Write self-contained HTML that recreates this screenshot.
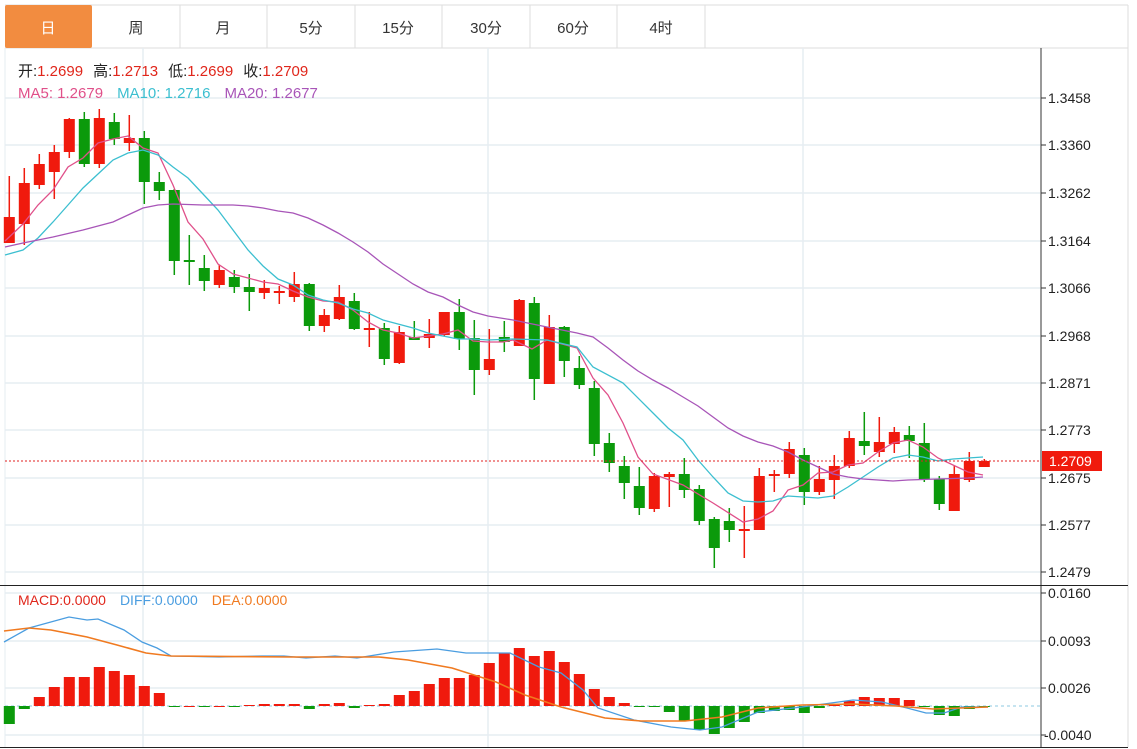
<!DOCTYPE html>
<html><head><meta charset="utf-8"><style>
body{margin:0;background:#fff;width:1137px;height:749px;overflow:hidden;font-family:"Liberation Sans","Noto Sans CJK SC",sans-serif}
svg{position:absolute;left:0;top:0}
</style></head><body>
<svg id="s" width="1137" height="749" xmlns="http://www.w3.org/2000/svg" font-family="Liberation Sans, Noto Sans CJK SC, sans-serif">
<rect x="0" y="0" width="1137" height="749" fill="#fff"/>
<!-- tabs -->
<line x1="5" y1="5" x2="1128" y2="5" stroke="#ddd"/>
<line x1="5" y1="48" x2="1128" y2="48" stroke="#ddd"/>
<line x1="1128" y1="5" x2="1128" y2="747" stroke="#ddd"/>
<rect x="5" y="5" width="87" height="43" fill="#f28c40" rx="2"/>
<g stroke="#ddd"><line x1="180" y1="5" x2="180" y2="48"/><line x1="267" y1="5" x2="267" y2="48"/><line x1="355" y1="5" x2="355" y2="48"/><line x1="442" y1="5" x2="442" y2="48"/><line x1="530" y1="5" x2="530" y2="48"/><line x1="617" y1="5" x2="617" y2="48"/><line x1="705" y1="5" x2="705" y2="48"/></g>
<g font-size="15" text-anchor="middle" fill="#333">
<text x="48" y="33" fill="#fff">日</text><text x="136" y="33">周</text><text x="223" y="33">月</text><text x="311" y="33">5分</text><text x="398" y="33">15分</text><text x="486" y="33">30分</text><text x="573" y="33">60分</text><text x="661" y="33">4时</text>
</g>
<!-- grid -->
<g stroke="#e6edf2" stroke-width="1.5">
<line x1="5" y1="98" x2="1040" y2="98"/><line x1="5" y1="145" x2="1040" y2="145"/><line x1="5" y1="193" x2="1040" y2="193"/><line x1="5" y1="241" x2="1040" y2="241"/><line x1="5" y1="288" x2="1040" y2="288"/><line x1="5" y1="336" x2="1040" y2="336"/><line x1="5" y1="383" x2="1040" y2="383"/><line x1="5" y1="430" x2="1040" y2="430"/><line x1="5" y1="478" x2="1040" y2="478"/><line x1="5" y1="525" x2="1040" y2="525"/><line x1="5" y1="572" x2="1040" y2="572"/>
<line x1="5" y1="593" x2="1040" y2="593"/><line x1="5" y1="641" x2="1040" y2="641"/><line x1="5" y1="688" x2="1040" y2="688"/><line x1="5" y1="735" x2="1040" y2="735"/>
<line x1="143" y1="48" x2="143" y2="747"/><line x1="488" y1="48" x2="488" y2="747"/><line x1="803" y1="48" x2="803" y2="747"/>
</g>
<line x1="5" y1="48" x2="5" y2="747" stroke="#e6edf2"/>
<line x1="1041" y1="48" x2="1041" y2="747" stroke="#333"/>
<line x1="0" y1="585.5" x2="1128" y2="585.5" stroke="#222"/>
<line x1="0" y1="747.5" x2="1128" y2="747.5" stroke="#222"/>
<line x1="5" y1="706" x2="1040" y2="706" stroke="#8cc8e0" stroke-dasharray="3,3"/>
<g id="c"></g>
<line x1="5" y1="461" x2="1040" y2="461" stroke="#e02020" stroke-dasharray="2,2"/>
<rect x="1042" y="451" width="60" height="20" fill="#f01a0d"/>
<text x="1049" y="466" font-size="14" fill="#fff">1.2709</text>
<g font-size="14" fill="#222">
<text x="1048" y="103">1.3458</text><text x="1048" y="150">1.3360</text><text x="1048" y="198">1.3262</text><text x="1048" y="246">1.3164</text><text x="1048" y="293">1.3066</text><text x="1048" y="341">1.2968</text><text x="1048" y="388">1.2871</text><text x="1048" y="435">1.2773</text><text x="1048" y="483">1.2675</text><text x="1048" y="530">1.2577</text><text x="1048" y="577">1.2479</text>
<text x="1048" y="598">0.0160</text><text x="1048" y="646">0.0093</text><text x="1048" y="693">0.0026</text><text x="1044" y="740">-0.0040</text>
</g>
<g stroke="#333"><line x1="1041" y1="98" x2="1046" y2="98"/><line x1="1041" y1="145" x2="1046" y2="145"/><line x1="1041" y1="193" x2="1046" y2="193"/><line x1="1041" y1="241" x2="1046" y2="241"/><line x1="1041" y1="288" x2="1046" y2="288"/><line x1="1041" y1="336" x2="1046" y2="336"/><line x1="1041" y1="383" x2="1046" y2="383"/><line x1="1041" y1="430" x2="1046" y2="430"/><line x1="1041" y1="478" x2="1046" y2="478"/><line x1="1041" y1="525" x2="1046" y2="525"/><line x1="1041" y1="572" x2="1046" y2="572"/><line x1="1041" y1="593" x2="1046" y2="593"/><line x1="1041" y1="641" x2="1046" y2="641"/><line x1="1041" y1="688" x2="1046" y2="688"/><line x1="1041" y1="735" x2="1046" y2="735"/></g>
<g font-size="15">
<text x="18" y="76"><tspan fill="#222">开:</tspan><tspan fill="#e0261b">1.2699</tspan><tspan fill="#222" dx="10">高:</tspan><tspan fill="#e0261b">1.2713</tspan><tspan fill="#222" dx="10">低:</tspan><tspan fill="#e0261b">1.2699</tspan><tspan fill="#222" dx="10">收:</tspan><tspan fill="#e0261b">1.2709</tspan></text>
<text x="18" y="98"><tspan fill="#e0508a">MA5: 1.2679</tspan><tspan fill="#3cbfd0" dx="14">MA10: 1.2716</tspan><tspan fill="#a855b8" dx="14">MA20: 1.2677</tspan></text>
</g>
<text x="18" y="605" font-size="14"><tspan fill="#e0261b">MACD:0.0000</tspan><tspan fill="#4a9de0" dx="14">DIFF:0.0000</tspan><tspan fill="#f07a20" dx="14">DEA:0.0000</tspan></text>
</svg>
<script>
var C=[[1,217,243,176,243],[1,183,224,168,245],[1,164,185,154,189],[1,152,172,145,199],[1,119,152,118,158],[0,119,164,112,167],[1,118,164,109,168],[0,122,139,113,145],[1,138,143,115,151],[0,138,182,131,204],[0,182,191,172,200],[0,190,261,189,275],[0,260,262,235,285],[0,268,281,255,291],[1,270,285,265,288],[0,277,287,270,293],[0,287,292,274,311],[1,288,293,280,299],[1,291,293,286,304],[1,284,297,272,302],[0,284,326,283,331],[1,315,326,309,332],[1,297,319,285,320],[0,301,329,293,330],[1,328,329,312,347],[0,328,359,323,365],[1,332,363,326,364],[0,337,340,321,340],[1,334,338,319,348],[1,312,335,312,336],[0,312,339,299,350],[0,338,370,320,395],[1,359,370,329,375],[0,337,342,321,352],[1,300,346,299,346],[0,303,379,297,400],[1,327,384,315,384],[0,327,361,326,377],[0,368,385,356,389],[0,388,444,381,456],[0,443,463,433,472],[0,466,483,456,499],[0,486,508,467,515],[1,476,509,473,512],[1,474,477,472,507],[0,474,490,458,498],[0,489,521,485,525],[0,519,548,517,568],[0,521,530,508,542],[1,529,530,506,558],[1,476,530,468,530],[1,474,476,470,492],[1,449,474,442,478],[0,455,492,448,505],[1,479,492,466,495],[1,466,480,455,499],[1,438,466,431,468],[0,441,446,412,455],[1,442,452,417,457],[1,432,444,427,453],[0,435,441,426,458],[0,443,479,423,482],[0,479,504,476,510],[1,474,511,466,511],[1,461,480,452,482],[1,461,467,459,467]];
var M=[724,709,697,687,677,677,667,671,675,686,693,707,706,707,706,707,705,704,704,704,709,704,703,708,705,704,695,691,684,678,678,675,663,653,648,656,651,662,674,689,697,703,707,707,712,721,730,734,728,722,713,711,710,713,708,705,701,697,698,698,700,707,715,716,709,707];
var R="#f01a0d",G="#0b9a0b",h="";
function X(i){return 9.3+15*i}
M.forEach(function(y,i){var x=X(i)-5.5,a=Math.min(y,706),b=Math.max(y,706);h+='<rect x="'+x+'" y="'+a+'" width="11" height="'+Math.max(b-a,1)+'" fill="'+(y<=706?R:G)+'"/>';});
C.forEach(function(c,i){var x=X(i),col=c[0]?R:G;h+='<line x1="'+x+'" y1="'+c[3]+'" x2="'+x+'" y2="'+c[4]+'" stroke="'+col+'" stroke-width="1.5"/><rect x="'+(x-5.5)+'" y="'+c[1]+'" width="11" height="'+Math.max(c[2]-c[1],2)+'" fill="'+col+'"/>';});
function P(p,col,w){h+='<polyline fill="none" stroke="'+col+'" stroke-width="'+(w||1.3)+'" points="'+p+'"/>';}
P("5,241 23,224 38,205 53,190 68,167 83,158 98,143 113,139 128,136 143,148 158,153 173,185 188,222 203,239 218,264 233,274 248,278 263,282 278,284 293,291 308,297 323,301 338,302 353,310 368,322 383,330 398,333 413,338 428,336 443,334 458,330 473,341 488,342 503,342 513,340 532,349 547,340 577,348 593,378 608,395 623,423 638,457 653,474 683,485 713,503 743,522 758,519 773,511 788,490 803,485 818,473 833,472 848,465 863,463 878,452 893,443 908,440 923,447 938,458 953,465 968,472 983,475","#e0508a");
P("5,255 23,250 38,238 53,222 68,205 83,188 98,174 113,160 128,153 143,150 158,155 173,167 188,178 203,194 218,210 233,230 248,250 263,266 278,279 293,285 308,295 323,300 338,303 353,309 368,313 383,320 398,324 413,328 428,333 443,336 458,339 473,339 488,340 513,339 547,340 577,347 593,367 623,383 653,413 668,428 683,440 698,460 713,477 728,493 743,501 758,502 773,501 788,496 803,497 818,498 833,496 848,487 863,477 878,467 893,458 908,455 923,457 938,461 953,459 968,458 983,457","#3cbfd0");
P("5,247 23,243 38,240 53,237 83,230 113,222 128,215 143,208 158,205 173,204 203,205 233,205 248,206 263,208 278,211 293,213 308,218 323,225 338,233 353,242 368,252 383,264 398,274 413,284 428,292 443,297 458,305 473,312 488,316 513,320 547,327 577,333 593,337 608,348 623,360 638,371 653,380 668,388 683,397 698,406 713,417 728,428 743,436 758,442 773,446 788,452 803,460 818,467 833,474 848,477 863,479 878,480 893,481 908,480 938,479 968,478 983,477","#a855b8");
P("4,642 29,628 69,617 87,620 98,619 124,630 142,642 157,648 171,656 219,657 262,656 284,656 306,658 335,656 357,658 394,652 437,649 466,653 510,653 539,667 561,673 583,690 598,708 634,720 671,727 700,730 722,727 758,712 802,707 853,700 882,702 907,708 926,713 944,713 962,707 988,707","#4a9de0");
P("4,631 29,628 51,630 87,637 117,645 146,653 171,656 292,657 379,657 408,660 452,668 496,682 525,695 561,707 605,718 641,721 685,721 722,717 758,708 802,705 853,704 896,706 933,709 988,707","#f07a20",1.6);
document.getElementById("c").innerHTML=h;
</script>
</body></html>
